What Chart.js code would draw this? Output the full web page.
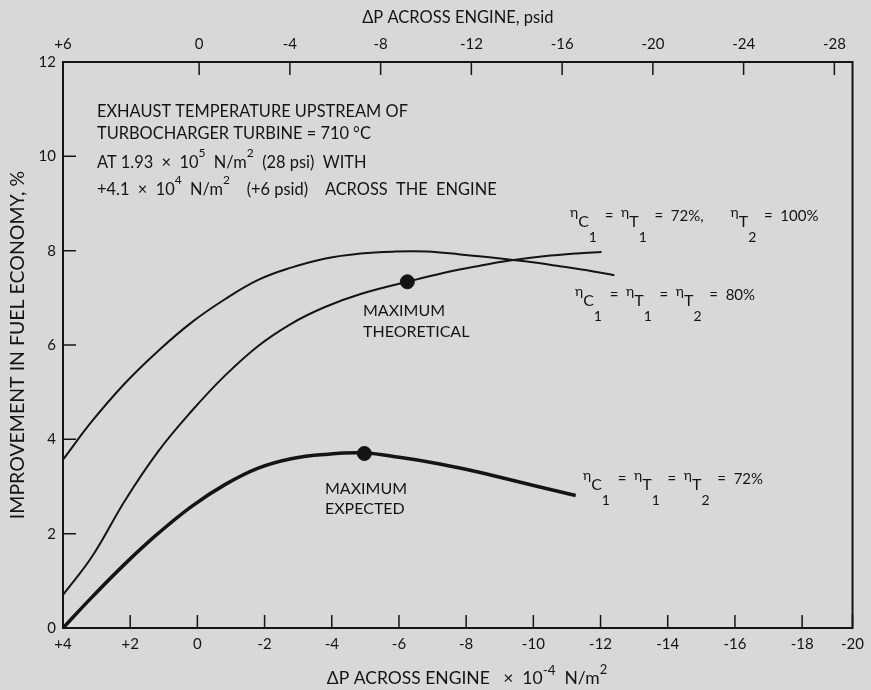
<!DOCTYPE html>
<html>
<head>
<meta charset="utf-8">
<script src="https://cdn.jsdelivr.net/npm/chart.js@4.4.1/dist/chart.umd.min.js"></script>
<style>
  html, body { margin: 0; padding: 0; background: #d8d8d8; }
  #wrap { width: 871px; height: 690px; }
</style>
</head>
<body>
<div id="wrap"><canvas id="fuelChart" width="871" height="690"></canvas></div>
<script>
// ΔP across engine (x 10^-4 N/m^2) vs improvement in fuel economy (%)
const dpUpper = [4, 3.13, 2.14, 1.16, 0.17, -0.82, -1.81, -2.79, -3.78, -4.86, -5.87, -6.84, -7.82, -8.83, -9.81, -10.79, -11.79, -12.41];
const gainUpper = [3.57, 4.39, 5.20, 5.88, 6.48, 6.97, 7.38, 7.64, 7.83, 7.94, 7.98, 7.98, 7.92, 7.85, 7.77, 7.67, 7.56, 7.48];

const dpMiddle = [4, 3.13, 2.14, 1.16, 0.17, -0.82, -1.81, -2.79, -3.78, -4.86, -6.25, -7.35, -8.33, -9.30, -10.31, -11.29, -12.03];
const gainMiddle = [0.70, 1.52, 2.72, 3.75, 4.60, 5.35, 5.98, 6.45, 6.80, 7.08, 7.34, 7.53, 7.67, 7.79, 7.88, 7.94, 7.97];

const dpLower = [4, 3.13, 2.14, 1.16, 0.17, -0.82, -1.81, -2.79, -3.78, -4.97, -6.01, -7.05, -8.09, -9.10, -10.13, -11.26];
const gainLower = [0, 0.66, 1.37, 2.01, 2.58, 3.04, 3.39, 3.59, 3.68, 3.71, 3.62, 3.50, 3.35, 3.18, 3.00, 2.81];

const maxTheoretical = { x: -6.25, y: 7.34 };
const maxExpected = { x: -4.97, y: 3.70 };

// bottom scale: the printed chart squeezes its last interval, -20 sits on the frame
const bottomTickValues = [4, 2, 0, -2, -4, -6, -8, -10, -12, -14, -16, -18, -19.5];
const bottomTickLabels = ["+4", "+2", "0", "-2", "-4", "-6", "-8", "-10", "-12", "-14", "-16", "-18", "-20"];
const topTickValues = [6, 0, -4, -8, -12, -16, -20, -24, -28];
const topTickLabels = ["+6", "0", "-4", "-8", "-12", "-16", "-20", "-24", "-28"];

const INK = "#141414";
const FONT = "Lato, 'Open Sans', sans-serif";

function toPoints(xs, ys) {
  return xs.map((x, i) => ({ x, y: ys[i] }));
}

function drawRich(ctx, x, y, parts) {
  let cx = x;
  parts.forEach(([text, dy, size]) => {
    ctx.font = `${size}px ${FONT}`;
    ctx.fillText(text, cx, y + dy);
    cx += ctx.measureText(text).width;
  });
  return cx - x;
}

function eta(sub, subsub) {
  return [["η", -4, 14], [sub, 6, 16], [subsub, 21, 14]];
}

const labels = [
  { x: 97, y: 117, parts: [["EXHAUST TEMPERATURE UPSTREAM OF", 0, 16.4]] },
  { x: 97, y: 139, parts: [["TURBOCHARGER TURBINE = 710 °C", 0, 16.4]] },
  { x: 97, y: 168, parts: [["AT 1.93  ×  10", 0, 16.4], ["5", -11, 12], ["  N/m", 0, 16.4], ["2", -11, 12], ["  (28 psi)  WITH", 0, 16.4]] },
  { x: 97, y: 195, parts: [["+4.1  ×  10", 0, 16.4], ["4", -11, 12], ["  N/m", 0, 16.4], ["2", -11, 12], ["    (+6 psid)    ACROSS  THE  ENGINE", 0, 16.4]] },
  { x: 570, y: 221, parts: [...eta("C", "1"), ["  =  ", 0, 15], ...eta("T", "1"), ["  =  72%,       ", 0, 15], ...eta("T", "2"), ["  =  100%", 0, 15]] },
  { x: 575, y: 300, parts: [...eta("C", "1"), ["  =  ", 0, 15], ...eta("T", "1"), ["  =  ", 0, 15], ...eta("T", "2"), ["  =  80%", 0, 15]] },
  { x: 583, y: 484, parts: [...eta("C", "1"), ["  =  ", 0, 15], ...eta("T", "1"), ["  =  ", 0, 15], ...eta("T", "2"), ["  =  72%", 0, 15]] },
  { x: 363, y: 316, parts: [["MAXIMUM", 0, 16]] },
  { x: 363, y: 337, parts: [["THEORETICAL", 0, 16]] },
  { x: 325, y: 494, parts: [["MAXIMUM", 0, 16]] },
  { x: 325, y: 514, parts: [["EXPECTED", 0, 16]] },
];

const frameAndText = {
  id: "frameAndText",
  afterDraw(chart) {
    const { ctx, chartArea: a, scales } = chart;
    ctx.save();
    ctx.strokeStyle = INK;
    ctx.lineWidth = 2;
    ctx.strokeRect(a.left, a.top, a.right - a.left, a.bottom - a.top);

    // tick marks point into the plot
    ctx.lineWidth = 1.5;
    ctx.beginPath();
    scales.x.ticks.forEach((t) => {
      const px = scales.x.getPixelForValue(t.value);
      ctx.moveTo(px, a.bottom);
      ctx.lineTo(px, a.bottom - 13);
    });
    scales.x2.ticks.forEach((t) => {
      const px = scales.x2.getPixelForValue(t.value);
      ctx.moveTo(px, a.top);
      ctx.lineTo(px, a.top + 13);
    });
    scales.y.ticks.forEach((t) => {
      const py = scales.y.getPixelForValue(t.value);
      ctx.moveTo(a.left, py);
      ctx.lineTo(a.left + 13, py);
    });
    ctx.stroke();

    ctx.fillStyle = INK;
    ctx.textBaseline = "alphabetic";
    ctx.textAlign = "left";
    labels.forEach((l) => drawRich(ctx, l.x, l.y, l.parts));

    // bottom axis title, centred under the plot
    const titleParts = [["ΔP ACROSS ENGINE   ×  10", 0, 17.5], ["-4", -9, 13.5], ["  N/m", 0, 17.5], ["2", -10, 13]];
    ctx.globalAlpha = 0;
    const w = drawRich(ctx, 0, 0, titleParts);
    ctx.globalAlpha = 1;
    drawRich(ctx, 467 - w / 2, 684, titleParts);
    ctx.restore();
  },
};

new Chart(document.getElementById("fuelChart"), {
  type: "line",
  data: {
    datasets: [
      { data: toPoints(dpUpper, gainUpper), borderColor: INK, borderWidth: 2, pointRadius: 0, tension: 0.4 },
      { data: toPoints(dpMiddle, gainMiddle), borderColor: INK, borderWidth: 2, pointRadius: 0, tension: 0.4 },
      { data: toPoints(dpLower, gainLower), borderColor: INK, borderWidth: 3.5, pointRadius: 0, tension: 0.4 },
      { data: [maxTheoretical, maxExpected], showLine: false, pointRadius: 7, pointBackgroundColor: INK, pointBorderColor: INK },
    ],
  },
  options: {
    responsive: false,
    animation: false,
    devicePixelRatio: 1,
    layout: { padding: { right: 13 } },
    plugins: { legend: { display: false }, tooltip: { enabled: false } },
    scales: {
      x: {
        type: "linear",
        position: "bottom",
        reverse: true,
        min: -19.5,
        max: 4,
        afterBuildTicks: (s) => { s.ticks = bottomTickValues.map((value) => ({ value })); },
        afterFit: (s) => { s.height = 62; },
        ticks: {
          callback: (v) => bottomTickLabels[bottomTickValues.indexOf(v)],
          color: INK, font: { family: FONT, size: 15 }, padding: 7, maxRotation: 0, autoSkip: false,
        },
        grid: { display: false, drawTicks: false },
        border: { display: false },
      },
      x2: {
        type: "linear",
        position: "top",
        reverse: true,
        min: -28.8,
        max: 6,
        afterBuildTicks: (s) => { s.ticks = topTickValues.map((value) => ({ value })); },
        afterFit: (s) => { s.height = 62; },
        ticks: {
          callback: (v) => topTickLabels[topTickValues.indexOf(v)],
          color: INK, font: { family: FONT, size: 15 }, padding: 9, maxRotation: 0, autoSkip: false,
        },
        title: { display: true, text: "ΔP ACROSS ENGINE, psid", color: INK, font: { family: FONT, size: 16.5 }, padding: { top: 8 } },
        grid: { display: false, drawTicks: false },
        border: { display: false },
      },
      y: {
        min: 0,
        max: 12,
        afterFit: (s) => { s.width = 63; },
        ticks: { stepSize: 2, color: INK, font: { family: FONT, size: 15 }, padding: 7 },
        title: { display: true, text: "IMPROVEMENT IN FUEL ECONOMY, %", color: INK, font: { family: FONT, size: 19.5 }, padding: { top: 6 } },
        grid: { display: false, drawTicks: false },
        border: { display: false },
      },
    },
  },
  plugins: [frameAndText],
});
</script>
</body>
</html>
